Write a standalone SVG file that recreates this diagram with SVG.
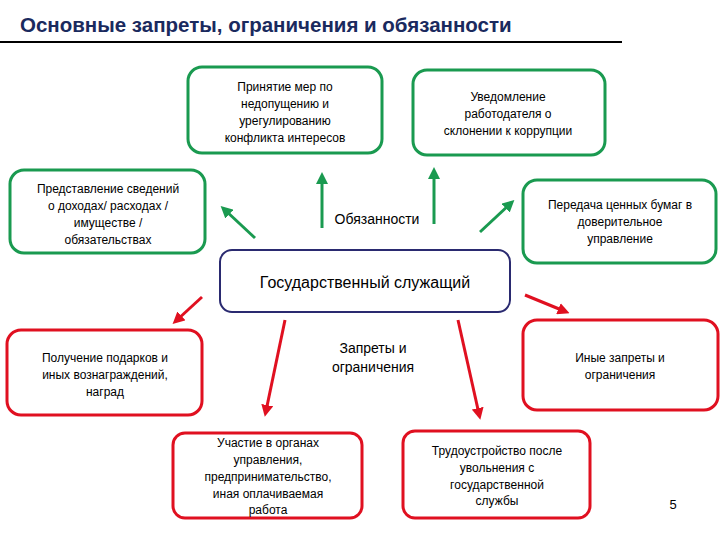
<svg xmlns="http://www.w3.org/2000/svg" width="720" height="540" viewBox="0 0 720 540">
<style>
text{font-family:"Liberation Sans",Arial,sans-serif;fill:#000}
.t{font-size:12px;text-anchor:middle}
.g{fill:#fff;stroke:#1a9a50;stroke-width:3}
.r{fill:#fff;stroke:#e01020;stroke-width:3}
.ga{stroke:#1a9a50;stroke-width:3;marker-end:url(#mg)}
.ra{stroke:#e01020;stroke-width:3;marker-end:url(#mr)}
</style>
<defs>
<marker id="mg" markerWidth="4" markerHeight="4" refX="2" refY="2" orient="auto"><path d="M0,0L4,2L0,4z" fill="#1a9a50"/></marker>
<marker id="mr" markerWidth="4" markerHeight="4" refX="2" refY="2" orient="auto"><path d="M0,0L4,2L0,4z" fill="#e01020"/></marker>
</defs>
<rect width="720" height="540" fill="#fff"/>
<text x="20" y="32" font-size="20.5" font-weight="bold" style="fill:#1a2a5e">Основные запреты, ограничения и обязанности</text>
<line x1="0" y1="42" x2="622" y2="42" stroke="#000" stroke-width="2"/>
<g id="connectors">
<line class="ga" x1="255" y1="238" x2="225" y2="210"/>
<line class="ga" x1="322" y1="228" x2="322" y2="178"/>
<line class="ga" x1="434" y1="224" x2="434" y2="173"/>
<line class="ga" x1="480" y1="232" x2="510" y2="204"/>
<line class="ra" x1="202" y1="297" x2="177" y2="320"/>
<line class="ra" x1="285" y1="320" x2="266" y2="411"/>
<line class="ra" x1="458" y1="320" x2="479" y2="414"/>
<line class="ra" x1="525" y1="295" x2="564" y2="311"/>
</g>
<g id="n1"><rect class="g" x="188" y="67" width="194" height="86" rx="14"/>
<text class="t" x="285" y="91">Принятие мер по</text><text class="t" x="285" y="108">недопущению и</text><text class="t" x="285" y="125">урегулированию</text><text class="t" x="285" y="142">конфликта интересов</text></g>
<g id="n2"><rect class="g" x="413" y="70" width="192" height="85" rx="14"/>
<text class="t" x="508" y="101">Уведомление</text><text class="t" x="508" y="118">работодателя о</text><text class="t" x="508" y="135">склонении к коррупции</text></g>
<g id="n3"><rect class="g" x="10" y="170" width="195" height="83" rx="14"/>
<text class="t" x="108" y="193">Представление сведений</text><text class="t" x="108" y="210">о доходах/ расходах /</text><text class="t" x="108" y="227">имуществе /</text><text class="t" x="108" y="244">обязательствах</text></g>
<g id="n4"><rect class="g" x="523" y="180" width="193" height="83" rx="14"/>
<text class="t" x="620" y="209">Передача ценных бумаг в</text><text class="t" x="620" y="226">доверительное</text><text class="t" x="620" y="243">управление</text></g>
<text x="377" y="224" font-size="14" text-anchor="middle">Обязанности</text>
<g id="main"><rect x="220" y="250" width="290" height="62" rx="12" fill="#fff" stroke="#2a2a70" stroke-width="2"/>
<text x="365" y="288" font-size="16" text-anchor="middle">Государственный служащий</text></g>
<text x="373" y="353" font-size="14" text-anchor="middle">Запреты и</text>
<text x="373" y="372" font-size="14" text-anchor="middle">ограничения</text>
<g id="n5"><rect class="r" x="7" y="330" width="195" height="85" rx="14"/>
<text class="t" x="105" y="362">Получение подарков и</text><text class="t" x="105" y="379">иных вознаграждений,</text><text class="t" x="105" y="396">наград</text></g>
<g id="n6"><rect class="r" x="523" y="320" width="195" height="90" rx="14"/>
<text class="t" x="620" y="362">Иные запреты и</text><text class="t" x="620" y="379">ограничения</text></g>
<g id="n7"><rect class="r" x="173" y="433" width="189" height="85" rx="12"/>
<text class="t" x="268" y="447">Участие в органах</text><text class="t" x="268" y="464">управления,</text><text class="t" x="268" y="481">предпринимательство,</text><text class="t" x="268" y="498">иная оплачиваемая</text><text class="t" x="268" y="514">работа</text></g>
<g id="n8"><rect class="r" x="403" y="431" width="187" height="87" rx="12"/>
<text class="t" x="497" y="455">Трудоустройство после</text><text class="t" x="497" y="472">увольнения с</text><text class="t" x="497" y="489">государственной</text><text class="t" x="497" y="505">службы</text></g>
<text x="673" y="509" font-size="13" text-anchor="middle">5</text>
</svg>
